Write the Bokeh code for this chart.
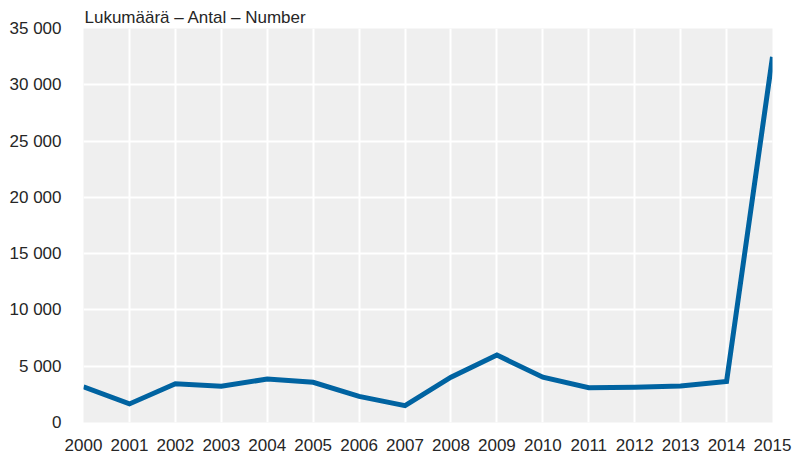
from bokeh.plotting import figure
from bokeh.models import FixedTicker, Range1d
from bokeh.embed import file_html
from bokeh.resources import INLINE

years = list(range(2000, 2016))
values = [3170, 1650, 3440, 3220, 3860, 3570, 2320, 1500, 4030, 5990, 4020, 3090, 3130, 3240, 3650, 32480]
y_ticks = [0, 5000, 10000, 15000, 20000, 25000, 30000, 35000]
y_tick_labels = ["0", "5 000", "10 000", "15 000", "20 000", "25 000", "30 000", "35 000"]
title_text = "Lukumäärä – Antal – Number"

FONT = "Liberation Sans"
TXT = "#262626"

p = figure(width=792, height=453, output_backend="svg", toolbar_location=None,
           x_range=Range1d(2000, 2015), y_range=Range1d(0, 35000),
           min_border_left=83, min_border_right=20, min_border_top=28, min_border_bottom=31)
p.background_fill_color = "#efefef"
p.border_fill_color = "white"
p.outline_line_color = None

p.title.text = title_text
p.title.align = "left"
p.title.offset = 1
p.title.standoff = 3
p.title.text_font = FONT
p.title.text_font_size = "17px"
p.title.text_font_style = "normal"
p.title.text_color = TXT

p.line(years, values, line_color="#0063A1", line_width=5, line_join="miter", line_cap="butt")

for ax in (p.xaxis[0], p.yaxis[0]):
    ax.axis_line_color = None
    ax.major_tick_line_color = None
    ax.minor_tick_line_color = None
    ax.major_label_text_font = FONT
    ax.major_label_text_font_size = "17px"
    ax.major_label_text_color = TXT

p.xaxis.ticker = FixedTicker(ticks=years)
p.xaxis.major_label_standoff = 10
p.yaxis.ticker = FixedTicker(ticks=y_ticks)
p.yaxis.major_label_overrides = {t: l for t, l in zip(y_ticks, y_tick_labels)}
p.yaxis.major_label_standoff = 16

p.xgrid.ticker = FixedTicker(ticks=years)
p.ygrid.ticker = FixedTicker(ticks=y_ticks)
for g in (p.xgrid[0], p.ygrid[0]):
    g.grid_line_color = "white"
    g.grid_line_width = 2

open("out.html", "w").write(file_html(p, INLINE))
